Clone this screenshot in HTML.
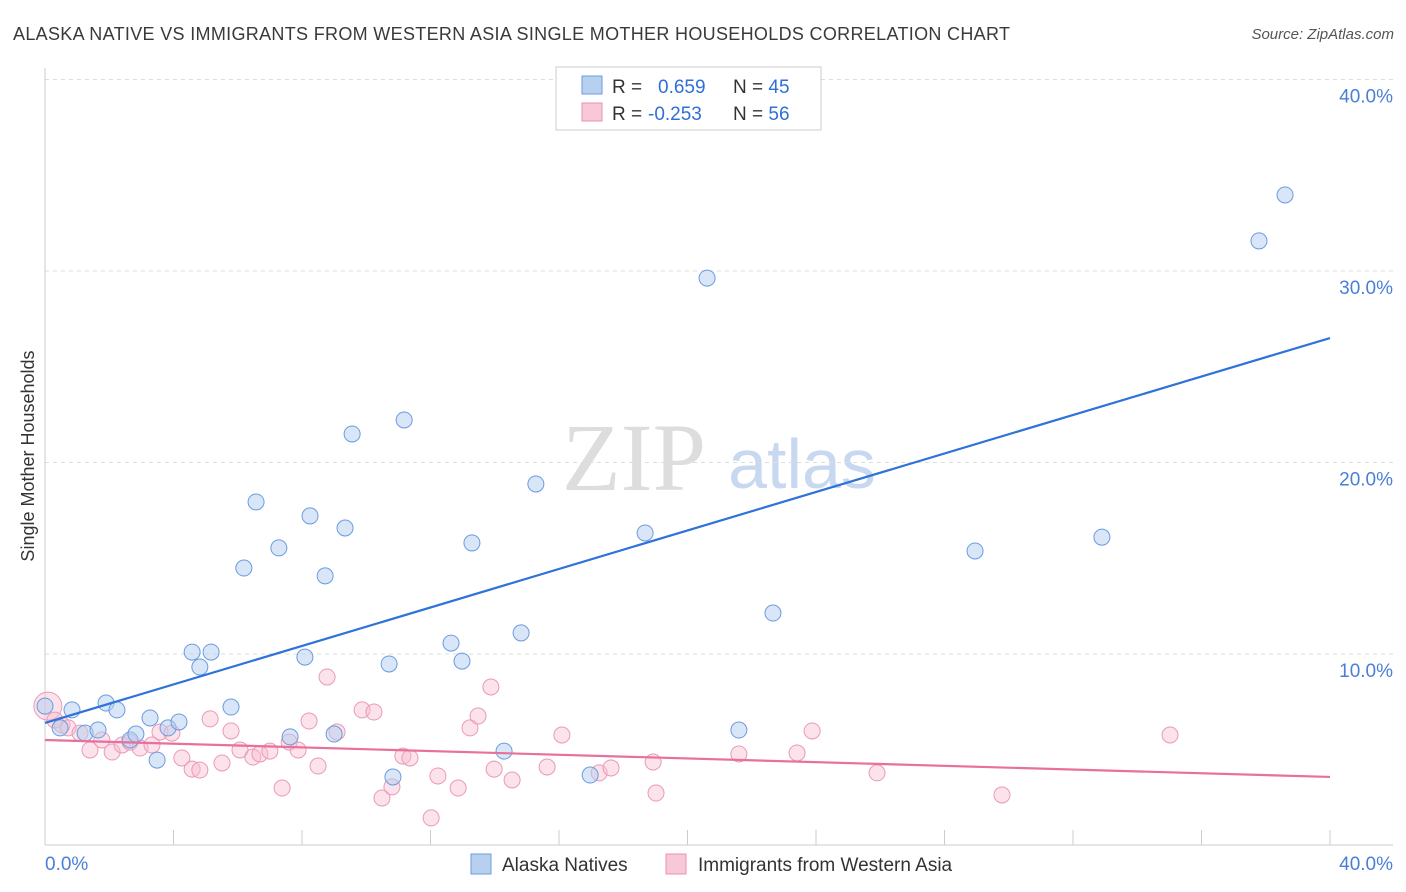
<!DOCTYPE html>
<html><head><meta charset="utf-8"><style>
body{margin:0;background:#fff;font-family:"Liberation Sans",sans-serif;}
</style></head><body>
<svg id="c" width="1406" height="892" xmlns="http://www.w3.org/2000/svg" style="display:block">
<text x="13" y="40" font-size="18" fill="#3a3a3a" textLength="997" lengthAdjust="spacing">ALASKA NATIVE VS IMMIGRANTS FROM WESTERN ASIA SINGLE MOTHER HOUSEHOLDS CORRELATION CHART</text>
<text x="1394" y="39" font-size="15" fill="#555" font-style="italic" text-anchor="end">Source: ZipAtlas.com</text>
<g>
<text x="634" y="490" font-size="96" font-family="Liberation Serif,serif" fill="#ddd" text-anchor="middle">ZIP</text>
<text x="802" y="488" font-size="70" fill="#c8d8f0" text-anchor="middle">atlas</text>
</g>
<g id="grid"></g>
<g id="axes"></g>
<g id="marks"></g>
<text transform="translate(34,456) rotate(-90)" font-size="18" fill="#333" text-anchor="middle">Single Mother Households</text>
<g>
<rect x="556" y="67" width="265" height="63" fill="#fff" stroke="#ccc"/>
<rect x="582" y="76" width="20" height="18" fill="#b8d0f0" stroke="#6a9be0"/>
<rect x="582" y="103" width="20" height="18" fill="#f8c8d6" stroke="#e890b0"/>
<text x="612" y="93" font-size="19" fill="#333">R = <tspan x="658" fill="#2f6fd8">0.659</tspan><tspan x="733">N = </tspan><tspan fill="#2f6fd8">45</tspan></text>
<text x="612" y="120" font-size="19" fill="#333">R = <tspan x="648" fill="#2f6fd8">-0.253</tspan><tspan x="733">N = </tspan><tspan fill="#2f6fd8">56</tspan></text>
</g>
<g>
<rect x="471" y="854" width="20" height="20" fill="#b8d0f0" stroke="#6a9be0"/>
<text x="502" y="871" font-size="19" fill="#333">Alaska Natives</text>
<rect x="666" y="854" width="20" height="20" fill="#f8c8d6" stroke="#e890b0"/>
<text x="698" y="871" font-size="19" fill="#333">Immigrants from Western Asia</text>
</g>
</svg>
<script>
const yTicks=[10,20,30,40];
const yTickLabels=["10.0%","20.0%","30.0%","40.0%"];
const xTicks=[0,4,8,12,16,20,24,28,32,36,40];
const blueX=[0,0.84,0.47,1.25,1.65,1.9,2.24,2.65,2.83,3.27,3.49,3.83,4.17,4.58,4.82,5.17,5.79,6.19,6.57,7.28,7.63,8.09,8.25,8.72,9.0,9.34,9.56,10.71,10.83,11.18,12.64,12.98,13.29,14.29,14.82,15.28,16.97,18.68,20.61,21.6,22.66,28.95,32.9,37.79,38.6];
const blueY=[7.28,7.08,6.14,5.87,6.03,7.44,7.08,5.51,5.82,6.66,4.46,6.14,6.45,10.1,9.32,10.1,7.23,14.49,17.94,15.54,5.67,9.84,17.21,14.08,5.82,16.58,21.49,9.48,3.58,22.22,10.57,9.63,15.8,4.93,11.1,18.88,3.68,16.32,29.63,6.03,12.14,15.38,16.1,31.57,33.97];
const pinkX=[0.09,0.31,0.53,0.72,1.09,1.4,1.77,2.09,2.4,2.65,2.96,3.33,3.58,3.95,4.26,4.58,4.82,5.14,5.51,5.79,6.07,6.47,6.69,7.0,7.38,7.6,7.88,8.22,8.5,8.78,9.09,9.87,10.24,10.49,10.8,11.14,11.36,12.02,12.23,12.86,13.23,13.48,13.88,13.98,14.54,15.63,16.09,17.25,17.62,18.93,19.02,21.6,23.41,23.88,25.9,29.79,35.02];
const pinkY=[7.28,6.55,6.29,6.14,5.87,4.99,5.51,4.88,5.25,5.4,5.09,5.25,5.93,5.87,4.57,3.99,3.94,6.61,4.31,5.98,4.99,4.62,4.78,4.93,3.0,5.4,4.99,6.5,4.15,8.8,5.93,7.08,6.97,2.48,3.06,4.67,4.57,1.44,3.63,3.0,6.14,6.76,8.28,3.99,3.42,4.1,5.77,3.79,4.05,4.36,2.74,4.78,4.83,5.98,3.79,2.64,5.77];
const blueTrend=[6.4,26.5];
const pinkTrend=[5.51,3.58];
const NS="http://www.w3.org/2000/svg";
const xs=v=>45+v*(1285/40);
const ys=v=>845.5-v*19.15;
function mk(p,t,a){const e=document.createElementNS(NS,t);for(const k in a)e.setAttribute(k,a[k]);p.appendChild(e);return e;}
const grid=document.getElementById('grid'),axes=document.getElementById('axes'),marks=document.getElementById('marks');
yTicks.forEach((t,i)=>{
 const l=mk(grid,'line',{x1:45,x2:1393,y1:ys(t),y2:ys(t),stroke:'#ddd','stroke-dasharray':'4,4'});
 
 
 const tx=mk(axes,'text',{x:1393,y:ys(t)+23,'font-size':19,fill:'#4a7fd8','text-anchor':'end'});
 tx.textContent=yTickLabels[i];
 
 
});
mk(axes,'line',{x1:45,x2:45,y1:68,y2:845,stroke:'#ccc'});
mk(axes,'line',{x1:45,x2:1393,y1:845,y2:845,stroke:'#ccc'});
xTicks.forEach(t=>{
 const l=mk(axes,'line',{x1:xs(t),x2:xs(t),y1:830,y2:845,stroke:'#ccc'});
 
 
});
const x0=mk(axes,'text',{x:45,y:870,'font-size':19,fill:'#4a7fd8'});x0.textContent="0.0%";


const x1=mk(axes,'text',{x:1393,y:870,'font-size':19,fill:'#4a7fd8','text-anchor':'end'});x1.textContent="40.0%";


pinkX.forEach((v,i)=>{
 const c=mk(marks,'circle',{cx:xs(v),cy:ys(pinkY[i]),r:i==0?14:8,fill:'rgba(248,190,208,0.45)',stroke:'#e99ab8','stroke-width':1});
 
 
});
blueX.forEach((v,i)=>{
 const c=mk(marks,'circle',{cx:xs(v),cy:ys(blueY[i]),r:8,fill:'rgba(180,205,240,0.5)',stroke:'#6a9be0','stroke-width':1});
 
 
});
const bl=mk(marks,'line',{x1:xs(0),y1:ys(blueTrend[0]),x2:xs(40),y2:ys(blueTrend[1]),stroke:'#2f72d8','stroke-width':2.2});


const pl=mk(marks,'line',{x1:xs(0),y1:ys(pinkTrend[0]),x2:xs(40),y2:ys(pinkTrend[1]),stroke:'#e8709a','stroke-width':2.2});


</script>
</body></html>
